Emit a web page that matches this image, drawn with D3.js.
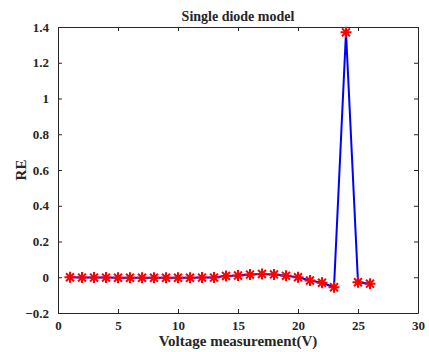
<!DOCTYPE html>
<html><head><meta charset="utf-8">
<script src="https://cdn.jsdelivr.net/npm/d3@7"></script>
<style>body{margin:0;background:#fff}svg{display:block}text{font-family:"Liberation Serif","Times New Roman",serif;font-weight:bold;fill:#262626}</style>
</head><body>
<svg id="c" width="429" height="352"></svg>
<script>
const xValues = [1,2,3,4,5,6,7,8,9,10,11,12,13,14,15,16,17,18,19,20,21,22,23,24,25,26];
const reValues = [0,-0.002,-0.002,-0.002,-0.003,-0.003,-0.003,-0.003,-0.003,-0.003,-0.003,-0.002,-0.002,0.007,0.01,0.015,0.018,0.016,0.008,0,-0.018,-0.031,-0.056,1.37,-0.028,-0.036];
const xTicks = [0,5,10,15,20,25,30];
const yTicks = [-0.2,0,0.2,0.4,0.6,0.8,1,1.2,1.4];
const title = "Single diode model";
const xLabel = "Voltage measurement(V)";
const yLabel = "RE";

const L=58,R=418,T=27,B=313;
const svg=d3.select("#c");
const x=d3.scaleLinear().domain([0,30]).range([L,R]);
const y=d3.scaleLinear().domain([-0.2,1.4]).range([B,T]);
const axCol="#262626";
const fmt=d=>d3.format("")(+d.toFixed(1));

const gb=svg.append("g").attr("transform",`translate(0,${B})`)
  .call(d3.axisBottom(x).tickValues(xTicks).tickSizeInner(-4).tickSizeOuter(0).tickPadding(8).tickFormat(fmt));
const gt=svg.append("g").attr("transform",`translate(0,${T})`)
  .call(d3.axisTop(x).tickValues(xTicks).tickSizeInner(-4).tickSizeOuter(0).tickFormat(""));
const gl=svg.append("g").attr("transform",`translate(${L},0)`)
  .call(d3.axisLeft(y).tickValues(yTicks).tickSizeInner(-4).tickSizeOuter(0).tickPadding(9).tickFormat(fmt));
const gr=svg.append("g").attr("transform",`translate(${R},0)`)
  .call(d3.axisRight(y).tickValues(yTicks).tickSizeInner(-4).tickSizeOuter(0).tickFormat(""));
[gb,gt,gl,gr].forEach(g=>{
  g.selectAll("path.domain").attr("stroke",axCol).attr("stroke-width",1);
  g.selectAll(".tick line").attr("stroke",axCol);
  g.selectAll("text").attr("font-size",13).attr("font-family","Liberation Serif").attr("font-weight","bold").attr("fill",axCol);
});

svg.append("path").datum(xValues.map((v,i)=>[v,reValues[i]]))
  .attr("fill","none").attr("stroke","#0000ff").attr("stroke-width",2)
  .attr("d",d3.line().x(d=>x(d[0])).y(d=>y(d[1])));

const s=5.5, sd=s*0.72;
const mk=svg.append("g").selectAll("g").data(xValues.map((v,i)=>[v,reValues[i]])).join("g")
  .attr("transform",d=>`translate(${x(d[0])},${y(d[1])})`);
mk.append("path").attr("d",`M${-s},0L${s},0M0,${-s}L0,${s}M${-sd},${-sd}L${sd},${sd}M${-sd},${sd}L${sd},${-sd}`)
  .attr("stroke","#ff0000").attr("stroke-width",2).attr("fill","none");

svg.append("text").attr("x",(L+R)/2).attr("y",21).attr("text-anchor","middle").attr("font-size",14).text(title);
svg.append("text").attr("x",(L+R)/2).attr("y",346).attr("text-anchor","middle").attr("font-size",15).text(xLabel);
svg.append("text").attr("transform",`translate(26,${(T+B)/2}) rotate(-90)`).attr("text-anchor","middle").attr("font-size",15).text(yLabel);
</script>
</body></html>
